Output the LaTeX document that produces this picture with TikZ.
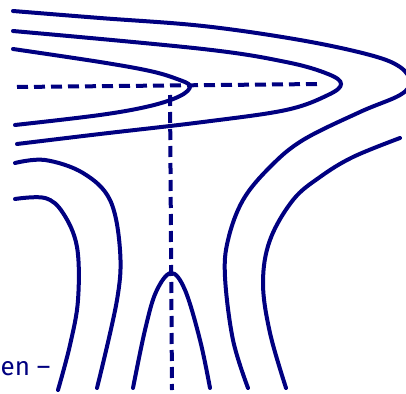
\documentclass[tikz,border=0pt]{standalone}
\usepackage{fontspec}
\setmainfont{Fira Sans}
\definecolor{navyline}{RGB}{0,0,128}
\tikzset{
  contour/.style={draw=navyline, line width=4pt, line cap=round},
  guide/.style={draw=navyline, line width=4pt, dash pattern=on 11pt off 6pt},
}
\begin{document}
\begin{tikzpicture}[x=1pt,y=-1pt]
\useasboundingbox (0,0) rectangle (406,393);
\begin{scope}
\clip (0,0) rectangle (406,393);
% contour lines
\draw[contour] plot[smooth, tension=0.6] coordinates {(13,11) (100,18) (203,26) (300,40) (370,55) (400,67) (410,82) (400,95) (360,112) (303,140) (270,167) (243,200) (228,240) (225,277) (233,340) (248,388)};
\draw[contour] plot[smooth, tension=0.6] coordinates {(13,31) (203,49) (286,62) (328,74) (341,84) (328,95) (286,110) (203,122) (100,134) (17,144)};
\draw[contour] plot[smooth, tension=0.6] coordinates {(13,49) (100,62) (150,71) (177,79) (190,86) (180,96) (150,106) (100,115) (15,125)};
\draw[contour] plot[smooth, tension=0.6] coordinates {(15,163) (45,160) (83,173) (110,200) (120,250) (117,300) (97,388)};
\draw[contour] plot[smooth, tension=0.6] coordinates {(15,199) (45,198) (63,213) (77,247) (78,300) (70,345) (58,390)};
\draw[contour] plot[smooth, tension=0.6] coordinates {(400,138) (353,157) (320,177) (293,200) (270,240) (263,283) (270,333) (286,388)};
\draw[contour] plot[smooth, tension=0.6] coordinates {(133,388) (145,330) (156,292) (171,273) (185,290) (200,340) (210,388)};
% dashed guides
\coordinate (hl) at (17,87);
\coordinate (hr) at (320,84);
\coordinate (vt) at (170,95);
\coordinate (vb) at (172,390);
\draw[guide] (hl) -- (hr);
\draw[guide] (vt) -- (vb);
\end{scope}
% label
\node[anchor=base west, inner sep=0pt, text=navyline, font=\fontsize{26}{30}\selectfont] (lab) at (0.5,375) {en –};
\end{tikzpicture}
\end{document}
